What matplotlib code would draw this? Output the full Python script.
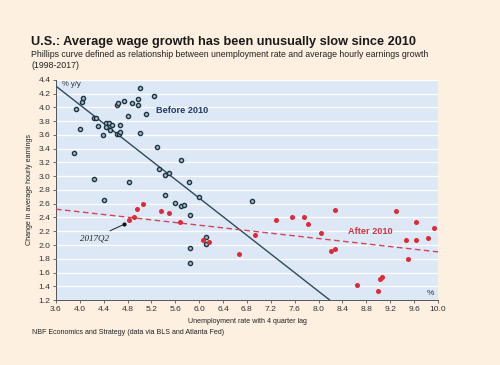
import numpy as np
import matplotlib
matplotlib.use("Agg")
import matplotlib.pyplot as plt

plt.rcParams['font.family'] = ['Liberation Sans', 'DejaVu Sans']

# Before 2010 (1998-2009): unemployment rate (4q lag), wage growth % y/y
before_x = [3.90, 3.93, 4.00, 4.03, 4.06, 4.23, 4.27, 4.30, 4.24, 4.39, 4.40, 4.43,
            4.44, 4.48, 4.50, 4.54, 4.63, 4.64, 4.63, 4.65, 4.67, 4.67, 4.74, 4.80,
            4.83, 4.87, 4.97, 4.97, 5.00, 5.00, 5.10, 5.24, 5.29, 5.33, 5.43, 5.50,
            5.43, 5.60, 5.70, 5.70, 5.74, 5.83, 5.84, 6.00, 6.88, 5.84, 5.84, 6.11,
            6.11]
before_y = [3.34, 3.98, 3.69, 4.08, 4.14, 3.84, 3.84, 3.73, 2.96, 3.60, 2.66, 3.78,
            3.71, 3.78, 3.67, 3.75, 4.04, 4.06, 3.61, 3.62, 3.64, 3.74, 4.10, 3.87,
            2.91, 4.06, 4.12, 4.03, 4.29, 3.63, 3.90, 4.16, 3.42, 3.11, 3.02, 3.04,
            2.72, 2.61, 3.24, 2.56, 2.58, 2.92, 2.44, 2.70, 2.64, 1.95, 1.74, 2.12,
            2.02]

# After 2010 (2010-2017)
after_x = [4.83, 4.90, 4.96, 5.06, 5.36, 5.50, 5.67, 6.06, 6.17, 6.67, 6.93,
           7.29, 7.55, 7.75, 7.82, 8.04, 8.21, 8.28, 8.28, 8.64, 9.00, 9.03,
           9.07, 9.30, 9.47, 9.50, 9.63, 9.63, 9.83, 9.93]
after_y = [2.37, 2.41, 2.52, 2.59, 2.49, 2.46, 2.34, 2.08, 2.05, 1.87, 2.14,
           2.37, 2.40, 2.40, 2.31, 2.18, 1.91, 1.94, 2.51, 1.42, 1.33, 1.50,
           1.53, 2.49, 2.08, 1.80, 2.34, 2.07, 2.10, 2.24]

# Latest observation
latest_label = "2017Q2"
latest_x = [4.74]
latest_y = [2.30]

# Trend lines (intercept at x=0, slope)
before_trend = (6.75, -0.678)
after_trend = (2.87, -0.097)

x_ticks = np.arange(3.6, 10.01, 0.4)
y_ticks = np.arange(1.2, 4.41, 0.2)

fig = plt.figure(figsize=(5.0, 3.65), dpi=100)
fig.patch.set_facecolor('#FDF0E1')
ax = fig.add_axes([0.112, 0.178, 0.764, 0.603])
ax.set_facecolor('#DDE8F6')

ax.set_xlim(3.6, 10.0)
ax.set_ylim(1.2, 4.4)
ax.set_xticks(x_ticks)
ax.set_yticks(y_ticks)
ax.set_xticklabels([f"{v:.1f}" for v in x_ticks], fontsize=6.1)
ax.set_yticklabels([f"{v:.1f}" for v in y_ticks], fontsize=6.1)
ax.tick_params(axis='both', length=2.5, width=0.6, pad=1.5, colors='#555555', labelcolor='#333333')
ax.yaxis.grid(True, color='white', linewidth=0.9)
ax.set_axisbelow(True)
for s in ['top', 'right']:
    ax.spines[s].set_visible(False)
for s in ['left', 'bottom']:
    ax.spines[s].set_color('#555555')
    ax.spines[s].set_linewidth(0.7)

xs = np.array([3.6, 10.0])
ax.plot(xs, before_trend[0] + before_trend[1] * xs, color='#2E4A5C', lw=1.0, zorder=3)
ax.plot(xs, after_trend[0] + after_trend[1] * xs, color='#D9405A', lw=1.0, ls=(0, (4, 2.5)), zorder=3)

ax.scatter(before_x, before_y, s=9, facecolor='#A9BCCB', edgecolor='#1E3442', linewidth=1.0, zorder=4)
ax.scatter(after_x, after_y, s=13, color='#E02836', linewidth=0, zorder=4)
ax.scatter(latest_x, latest_y, s=4, color='#111111', zorder=5)

ax.annotate(latest_label, xy=(latest_x[0], latest_y[0]), xytext=(4.48, 2.1),
            fontsize=6.5, fontstyle='italic', family='Liberation Serif', color='#222222',
            ha='right', va='center',
            arrowprops=dict(arrowstyle='-', color='#222222', lw=0.7, shrinkA=1, shrinkB=1))

ax.text(3.7, 4.34, "% y/y", fontsize=5.6, color='#333333', va='center')
ax.text(5.28, 3.96, "Before 2010", fontsize=6.6, fontweight='bold', color='#263A6A', va='center')
ax.text(8.5, 2.19, "After 2010", fontsize=6.6, fontweight='bold', color='#D8303E', va='center')
ax.text(9.93, 1.29, "%", fontsize=6.0, color='#333333', ha='right', va='center')

ax.set_xlabel("Unemployment rate with 4 quarter lag", fontsize=5.1, color='#222222', labelpad=4)
ax.set_ylabel("Change in average hourly earnings", fontsize=5.1, color='#222222', labelpad=4)

fig.text(0.062, 0.884, "U.S.: Average wage growth has been unusually slow since 2010",
         fontsize=9.2, fontweight='bold', color='#1A1A1A', va='center')
fig.text(0.062, 0.852, "Phillips curve defined as relationship between unemployment rate and average hourly earnings growth",
         fontsize=6.3, color='#222222', va='center')
fig.text(0.062, 0.820, "(1998-2017)", fontsize=6.3, color='#222222', va='center')
fig.text(0.064, 0.088, "NBF Economics and Strategy (data via BLS and Atlanta Fed)",
         fontsize=5.1, color='#222222', va='center')

fig.savefig("out.png", dpi=100, facecolor=fig.get_facecolor())
